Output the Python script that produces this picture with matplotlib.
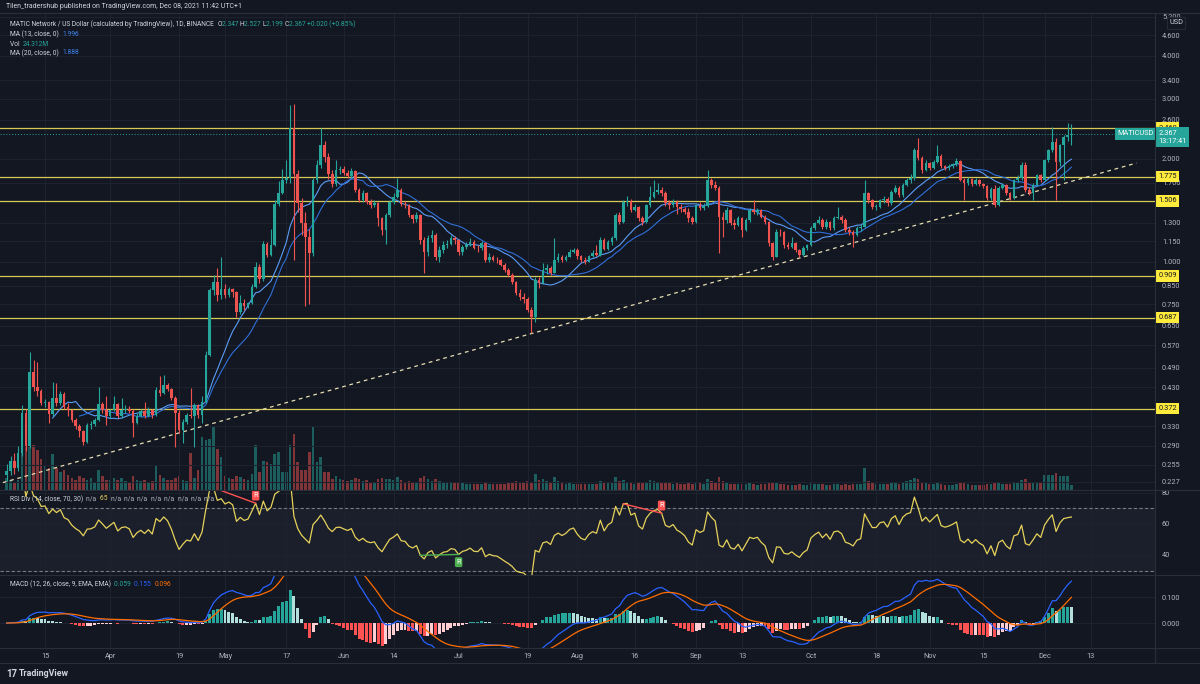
import numpy as np
import pandas as pd
import matplotlib
matplotlib.use("Agg")
import matplotlib.pyplot as plt
import matplotlib.dates as mdates
import matplotlib.transforms as mtransforms
from matplotlib.lines import Line2D
from matplotlib.ticker import FixedLocator, FixedFormatter, NullLocator

plt.rcParams['font.family'] = ['Roboto', 'Liberation Sans', 'DejaVu Sans']
FS = 5.3      # axis labels
FS_LEG = 4.8  # pane legends

# daily MATICUSD candles, 2021-03-05 .. 2021-12-08 (open = previous close)
first_open = 0.238
close = [
    0.245, 0.262, 0.250, 0.275, 0.360, 0.290, 0.476, 0.430, 0.418, 0.385,
    0.390, 0.358, 0.400, 0.385, 0.411, 0.377, 0.369, 0.345, 0.330, 0.319,
    0.298, 0.333, 0.335, 0.345, 0.383, 0.369, 0.353, 0.368, 0.383, 0.353,
    0.369, 0.372, 0.366, 0.337, 0.355, 0.365, 0.355, 0.369, 0.356, 0.422,
    0.413, 0.436, 0.425, 0.400, 0.361, 0.322, 0.341, 0.357, 0.353, 0.381,
    0.356, 0.390, 0.534, 0.827, 0.870, 0.800, 0.830, 0.800, 0.830, 0.815,
    0.715, 0.760, 0.740, 0.755, 0.845, 0.965, 0.890, 1.130, 1.050, 1.120,
    1.480, 1.590, 1.730, 1.760, 2.460, 1.800, 1.490, 1.300, 1.180, 1.060,
    1.730, 1.920, 2.190, 2.020, 1.800, 1.690, 1.855, 1.870, 1.820, 1.780,
    1.840, 1.620, 1.520, 1.585, 1.500, 1.470, 1.490, 1.340, 1.240, 1.370,
    1.500, 1.550, 1.620, 1.480, 1.470, 1.370, 1.330, 1.370, 1.160, 1.070,
    1.170, 1.200, 1.035, 1.083, 1.120, 1.130, 1.170, 1.158, 1.070, 1.107,
    1.120, 1.145, 1.100, 1.095, 1.133, 1.012, 1.035, 1.015, 1.010, 0.980,
    0.946, 0.915, 0.875, 0.810, 0.790, 0.780, 0.723, 0.690, 0.885, 0.865,
    0.946, 0.957, 0.930, 1.012, 1.035, 1.015, 1.035, 1.070, 1.083, 1.040,
    1.010, 1.000, 1.040, 1.060, 1.050, 1.158, 1.090, 1.145, 1.170, 1.370,
    1.310, 1.500, 1.510, 1.420, 1.450, 1.340, 1.310, 1.466, 1.550, 1.600,
    1.620, 1.590, 1.483, 1.466, 1.500, 1.450, 1.430, 1.400, 1.340, 1.310,
    1.466, 1.440, 1.460, 1.730, 1.680, 1.645, 1.355, 1.325, 1.420, 1.300,
    1.280, 1.340, 1.240, 1.325, 1.417, 1.400, 1.417, 1.355, 1.310, 1.133,
    1.035, 1.225, 1.220, 1.120, 1.107, 1.133, 1.083, 1.047, 1.095, 1.120,
    1.252, 1.295, 1.325, 1.266, 1.310, 1.252, 1.340, 1.350, 1.325, 1.239,
    1.225, 1.200, 1.252, 1.266, 1.585, 1.516, 1.450, 1.450, 1.516, 1.530,
    1.483, 1.600, 1.645, 1.567, 1.680, 1.734, 1.755, 2.120, 2.010, 1.855,
    1.940, 1.880, 1.960, 2.040, 1.900, 1.880, 1.900, 1.930, 1.970, 1.740,
    1.700, 1.750, 1.690, 1.740, 1.690, 1.660, 1.535, 1.630, 1.470, 1.645,
    1.680, 1.590, 1.540, 1.734, 1.755, 1.920, 1.620, 1.590, 1.680, 1.790,
    1.730, 1.980, 2.120, 2.245, 1.960, 2.190, 2.320, 2.347, 2.367,
]
high = [
    0.256, 0.270, 0.275, 0.290, 0.380, 0.370, 0.543, 0.516, 0.510, 0.425,
    0.398, 0.392, 0.446, 0.441, 0.420, 0.415, 0.385, 0.372, 0.350, 0.335,
    0.322, 0.338, 0.342, 0.350, 0.431, 0.388, 0.404, 0.372, 0.404, 0.386,
    0.400, 0.380, 0.378, 0.370, 0.360, 0.372, 0.390, 0.375, 0.372, 0.430,
    0.462, 0.467, 0.441, 0.428, 0.405, 0.368, 0.346, 0.362, 0.427, 0.385,
    0.384, 0.404, 0.548, 0.840, 0.915, 0.957, 1.030, 0.860, 0.845, 0.840,
    0.820, 0.800, 0.780, 0.765, 0.860, 1.000, 0.985, 1.150, 1.140, 1.250,
    1.520, 1.720, 1.870, 1.980, 2.870, 2.900, 1.850, 1.540, 1.400, 1.250,
    1.760, 1.980, 2.460, 2.250, 2.080, 1.850, 1.980, 1.900, 1.900, 1.850,
    1.880, 1.860, 1.640, 1.620, 1.600, 1.530, 1.520, 1.500, 1.350, 1.390,
    1.520, 1.590, 1.760, 1.640, 1.510, 1.480, 1.380, 1.400, 1.380, 1.180,
    1.200, 1.240, 1.210, 1.110, 1.150, 1.160, 1.200, 1.190, 1.165, 1.120,
    1.140, 1.170, 1.160, 1.120, 1.150, 1.140, 1.060, 1.050, 1.030, 1.020,
    0.990, 0.960, 0.925, 0.880, 0.830, 0.810, 0.790, 0.735, 0.900, 0.905,
    0.990, 0.985, 0.975, 1.170, 1.060, 1.050, 1.050, 1.090, 1.100, 1.095,
    1.050, 1.030, 1.050, 1.080, 1.120, 1.180, 1.170, 1.160, 1.190, 1.390,
    1.400, 1.520, 1.560, 1.530, 1.480, 1.460, 1.360, 1.480, 1.660, 1.734,
    1.700, 1.650, 1.610, 1.520, 1.530, 1.520, 1.480, 1.450, 1.440, 1.360,
    1.480, 1.500, 1.490, 1.855, 1.760, 1.720, 1.660, 1.400, 1.450, 1.430,
    1.330, 1.360, 1.350, 1.340, 1.440, 1.520, 1.440, 1.430, 1.370, 1.320,
    1.140, 1.250, 1.250, 1.230, 1.140, 1.184, 1.140, 1.090, 1.110, 1.130,
    1.270, 1.310, 1.360, 1.340, 1.330, 1.320, 1.360, 1.450, 1.370, 1.340,
    1.260, 1.240, 1.270, 1.290, 1.734, 1.600, 1.530, 1.480, 1.530, 1.560,
    1.550, 1.620, 1.680, 1.660, 1.700, 1.760, 1.800, 2.150, 2.300, 2.040,
    1.980, 1.960, 1.980, 2.190, 2.060, 1.920, 1.930, 1.950, 2.010, 1.990,
    1.760, 1.770, 1.760, 1.760, 1.750, 1.700, 1.680, 1.650, 1.680, 1.660,
    1.700, 1.690, 1.600, 1.750, 1.790, 1.960, 1.960, 1.650, 1.700, 1.810,
    1.810, 2.000, 2.140, 2.480, 2.300, 2.210, 2.350, 2.540, 2.527,
]
low = [
    0.228, 0.238, 0.240, 0.245, 0.270, 0.280, 0.285, 0.420, 0.405, 0.380,
    0.375, 0.337, 0.355, 0.378, 0.380, 0.372, 0.353, 0.340, 0.325, 0.308,
    0.292, 0.296, 0.325, 0.330, 0.343, 0.362, 0.333, 0.350, 0.365, 0.348,
    0.350, 0.362, 0.360, 0.308, 0.335, 0.352, 0.350, 0.352, 0.350, 0.354,
    0.405, 0.410, 0.418, 0.395, 0.288, 0.315, 0.295, 0.336, 0.348, 0.288,
    0.350, 0.337, 0.385, 0.530, 0.800, 0.770, 0.780, 0.785, 0.790, 0.790,
    0.690, 0.705, 0.725, 0.730, 0.750, 0.840, 0.865, 0.880, 1.030, 1.040,
    1.110, 1.460, 1.580, 1.700, 1.700, 1.010, 1.400, 1.200, 0.740, 0.750,
    1.040, 1.700, 1.880, 1.960, 1.750, 1.650, 1.660, 1.800, 1.790, 1.760,
    1.760, 1.600, 1.500, 1.500, 1.480, 1.440, 1.450, 1.270, 1.200, 1.130,
    1.350, 1.480, 1.540, 1.460, 1.440, 1.350, 1.300, 1.310, 1.130, 0.930,
    1.040, 1.140, 1.010, 1.000, 1.060, 1.100, 1.120, 1.130, 1.050, 1.050,
    1.090, 1.110, 1.090, 1.070, 1.085, 1.000, 1.000, 1.005, 0.990, 0.970,
    0.935, 0.905, 0.860, 0.800, 0.775, 0.760, 0.715, 0.618, 0.665, 0.840,
    0.860, 0.920, 0.915, 0.925, 1.000, 1.000, 1.005, 1.030, 1.060, 1.020,
    0.995, 0.985, 0.995, 1.030, 1.040, 1.040, 1.080, 1.080, 1.120, 1.160,
    1.290, 1.300, 1.460, 1.400, 1.410, 1.320, 1.280, 1.300, 1.450, 1.540,
    1.580, 1.560, 1.460, 1.430, 1.450, 1.380, 1.400, 1.380, 1.310, 1.290,
    1.300, 1.420, 1.420, 1.450, 1.640, 1.620, 1.060, 1.184, 1.300, 1.280,
    1.250, 1.270, 1.184, 1.230, 1.310, 1.380, 1.370, 1.340, 1.290, 1.110,
    1.010, 1.030, 1.190, 1.100, 1.090, 1.100, 1.070, 1.030, 1.040, 1.080,
    1.110, 1.240, 1.290, 1.250, 1.250, 1.240, 1.240, 1.330, 1.300, 1.220,
    1.200, 1.107, 1.190, 1.230, 1.260, 1.490, 1.430, 1.420, 1.440, 1.490,
    1.460, 1.470, 1.590, 1.550, 1.550, 1.660, 1.700, 1.740, 1.980, 1.820,
    1.840, 1.860, 1.870, 1.950, 1.880, 1.850, 1.860, 1.880, 1.900, 1.720,
    1.516, 1.680, 1.670, 1.680, 1.670, 1.640, 1.520, 1.520, 1.450, 1.460,
    1.630, 1.570, 1.520, 1.530, 1.710, 1.740, 1.600, 1.570, 1.516, 1.660,
    1.710, 1.720, 1.960, 2.100, 1.516, 1.900, 1.730, 2.260, 2.199,
]
volume = [  # millions
    60, 50, 40, 50, 320, 365, 270, 220, 195, 150,
    120, 108, 175, 108, 90, 98, 75, 60, 50, 70,
    60, 50, 58, 40, 100, 70, 50, 50, 60, 50,
    58, 45, 40, 70, 50, 45, 50, 40, 45, 125,
    75, 60, 50, 50, 60, 70, 50, 45, 180, 60,
    100, 260, 245, 250, 310, 200, 160, 70, 60, 55,
    70, 65, 55, 50, 80, 220, 90, 140, 135, 130,
    175, 185, 90, 90, 220, 275, 135, 100, 100, 185,
    310, 135, 160, 90, 90, 55, 70, 55, 50, 45,
    50, 60, 55, 45, 50, 40, 40, 55, 60, 55,
    55, 50, 65, 50, 40, 45, 40, 40, 60, 70,
    55, 45, 55, 45, 40, 35, 35, 35, 40, 35,
    30, 30, 30, 28, 30, 40, 30, 28, 28, 30,
    30, 35, 40, 45, 40, 38, 45, 40, 80, 50,
    55, 45, 40, 65, 45, 35, 30, 35, 30, 30,
    30, 28, 30, 30, 30, 45, 35, 38, 35, 65,
    45, 50, 40, 38, 30, 35, 35, 40, 50, 45,
    40, 35, 40, 35, 30, 35, 30, 30, 35, 30,
    40, 35, 30, 55, 45, 35, 65, 45, 35, 30,
    28, 28, 30, 28, 35, 30, 25, 28, 30, 40,
    38, 40, 28, 28, 25, 25, 25, 28, 25, 25,
    35, 30, 28, 28, 25, 25, 28, 30, 25, 28,
    25, 30, 28, 28, 110, 45, 35, 30, 30, 28,
    28, 35, 35, 30, 40, 45, 50, 60, 55, 40,
    35, 30, 28, 35, 30, 25, 25, 25, 28, 35,
    40, 28, 25, 25, 25, 25, 30, 30, 35, 35,
    28, 28, 28, 40, 35, 50, 55, 35, 40, 40,
    35, 75, 75, 75, 85, 70, 70, 70, 24.312,
]

levels = [2.460, 1.775, 1.506, 0.909, 0.687, 0.372]
trend_dates = ["2021-03-04", "2021-12-25"]
trend_prices = [0.226, 1.944]
price_ticks = [0.227, 0.255, 0.290, 0.330, 0.370, 0.430, 0.490, 0.570, 0.650, 0.750,
               0.850, 1.000, 1.150, 1.300, 1.700, 2.000, 2.600, 3.000, 3.400, 4.000,
               4.600, 5.200]
date_ticks = ["2021-03-15", "2021-04-01", "2021-04-19", "2021-05-01", "2021-05-17",
              "2021-06-01", "2021-06-14", "2021-07-01", "2021-07-19", "2021-08-01",
              "2021-08-16", "2021-09-01", "2021-09-13", "2021-10-01", "2021-10-18",
              "2021-11-01", "2021-11-15", "2021-12-01", "2021-12-13"]
date_labels = ["15", "Apr", "19", "May", "17", "Jun", "14", "Jul", "19", "Aug",
               "16", "Sep", "13", "Oct", "18", "Nov", "15", "Dec", "13"]
div_bear = [("2021-04-28", "2021-05-09"), ("2021-08-13", "2021-08-23")]
div_bull = [("2021-06-21", "2021-07-01")]

# ---- look ----
W, H, DPI = 1200, 684, 100
BG = "#131722"
GRID = "#1e222e"
SEP = "#2a2e39"
TXT = "#b2b5be"
WHITE = "#d1d4dc"
UP, DOWN = "#26a69a", "#ef5350"

c = np.array(close)
h = np.array(high)
l = np.array(low)
v = np.array(volume)
o = np.r_[first_open, c[:-1]]
dates = pd.date_range("2021-03-05", periods=len(c), freq="D")
xd = mdates.date2num(dates)
s = pd.Series(c)

ma13 = s.rolling(13).mean()
ma20 = s.rolling(20).mean()
delta = s.diff()
gain = delta.clip(lower=0).ewm(alpha=1/14, adjust=False).mean()
loss = (-delta.clip(upper=0)).ewm(alpha=1/14, adjust=False).mean()
rsi = 100 - 100 / (1 + gain / loss)
macd = s.ewm(span=12, adjust=False).mean() - s.ewm(span=26, adjust=False).mean()
signal = macd.ewm(span=9, adjust=False).mean()
hist = macd - signal
prev = hist.shift(1).fillna(0)
hcol = np.where(hist >= 0, np.where(prev < hist, "#26a69a", "#b2dfdb"),
                np.where(prev < hist, "#ffcdd2", "#ff5252"))

fig = plt.figure(figsize=(W / DPI, H / DPI), dpi=DPI, facecolor=BG)


def pane(x0, y0, x1, y1, **kw):
    return fig.add_axes([x0 / W, 1 - y1 / H, (x1 - x0) / W, (y1 - y0) / H], **kw)


ax_vol = pane(0, 13, 1155, 490)
ax = pane(0, 13, 1155, 490, sharex=ax_vol)
ax_rsi = pane(0, 490, 1155, 575, sharex=ax_vol)
ax_macd = pane(0, 575, 1155, 648, sharex=ax_vol)

tick_x = mdates.date2num(pd.to_datetime(date_ticks))
for a in (ax, ax_rsi, ax_macd):
    a.set_facecolor("none")
    for sp in a.spines.values():
        sp.set_visible(False)
    a.yaxis.tick_right()
    a.tick_params(axis="both", length=0, labelsize=FS, labelcolor=TXT, pad=5)
    a.grid(True, color=GRID, lw=0.8)
    a.set_axisbelow(True)
ax_vol.axis("off")

ax_macd.xaxis.set_major_locator(FixedLocator(tick_x))
ax_macd.xaxis.set_major_formatter(FixedFormatter(date_labels))
ax.tick_params(labelbottom=False)
ax_rsi.tick_params(labelbottom=False)
ax_macd.tick_params(axis="x", pad=3.5)
ax_macd.set_xlim(mdates.date2num(pd.Timestamp("2021-03-03 06:00")),
                 mdates.date2num(pd.Timestamp("2021-12-29 20:00")))

# ---- price pane ----
ax.set_yscale("log")
ax.set_ylim(0.215, 5.34)
ax.yaxis.set_major_locator(FixedLocator(price_ticks))
ax.yaxis.set_major_formatter(FixedFormatter([f"{t:.3f}" for t in price_ticks]))
ax.yaxis.set_minor_locator(NullLocator())

vcol = np.where(c >= o, UP, DOWN)
ax_vol.bar(xd, v, width=0.68, color=vcol, alpha=0.5, linewidth=0)
ax_vol.set_ylim(0, 2340)

for lv in levels:
    ax.axhline(lv, color="#d8c85a", lw=0.9, zorder=2)

ax.plot(mdates.date2num(pd.to_datetime(trend_dates)), trend_prices,
        color="#e6dfb4", lw=0.9, ls=(0, (3, 3)), zorder=2)
ax.axhline(c[-1], color=UP, lw=0.7, ls=(0, (1, 2)), zorder=2)

ax.plot(xd, ma13, color="#5b9cf6", lw=0.8, zorder=5)
ax.plot(xd, ma20, color="#2f6fd8", lw=0.8, zorder=5)

ax.vlines(xd, l, h, colors=vcol, lw=0.8, zorder=6)
body_lo = np.minimum(o, c)
body_h = np.maximum(np.abs(c - o), c * 0.004)
ax.bar(xd, body_h, bottom=body_lo, width=0.68, color=vcol, linewidth=0, zorder=7)

tr = mtransforms.blended_transform_factory(ax.transAxes, ax.transData)
for lv in levels:
    ax.text(1.003, lv, f"{lv:.3f}", transform=tr, ha="left", va="center",
            fontsize=FS, color="#131722", clip_on=False, zorder=20,
            bbox=dict(boxstyle="square,pad=0.3", fc="#ffeb3b", ec="none"))
ax.text(1.003, c[-1], f"{c[-1]:.3f}\n13:17:41", transform=mtransforms.offset_copy(
        tr, fig=fig, x=0, y=-3.5, units="dots"), ha="left", va="center",
        fontsize=FS, color="white", linespacing=1.15, clip_on=False, zorder=21,
        bbox=dict(boxstyle="square,pad=0.35", fc=UP, ec="none"))
ax.text(0.9985, c[-1], "MATICUSD", transform=tr, ha="right", va="center",
        fontsize=FS, color="white", clip_on=False, zorder=21,
        bbox=dict(boxstyle="square,pad=0.3", fc=UP, ec="none"))

# ---- RSI pane ----
ax_rsi.set_ylim(27.1, 81.9)
ax_rsi.yaxis.set_major_locator(FixedLocator([40, 60, 80]))
ax_rsi.fill_between([xd[0] - 30, xd[-1] + 60], 30, 70, color="#1b1f2c", zorder=0)
ax_rsi.axhline(70, color="#787b86", lw=0.8, ls=(0, (3, 2)))
ax_rsi.axhline(30, color="#787b86", lw=0.8, ls=(0, (3, 2)))
ax_rsi.plot(xd, rsi, color="#e6d25a", lw=0.9, zorder=4)


def rsi_at(d):
    i = (pd.Timestamp(d) - dates[0]).days
    return mdates.date2num(pd.Timestamp(d)), rsi.iloc[i]


for d0, d1 in div_bear:
    x0, y0 = rsi_at(d0)
    x1, y1 = rsi_at(d1)
    ax_rsi.plot([x0, x1], [y0, y1], color="#ff5252", lw=1.0, zorder=5)
    ax_rsi.annotate("R", (x1, y1), xytext=(0, 3), textcoords="offset points",
                    ha="center", va="bottom", fontsize=FS, color="white", zorder=6,
                    bbox=dict(boxstyle="round,pad=0.2", fc="#ff5252", ec="none"))
for d0, d1 in div_bull:
    x0, y0 = rsi_at(d0)
    x1, y1 = rsi_at(d1)
    ax_rsi.plot([x0, x1], [y0, y1], color="#4caf50", lw=1.0, zorder=5)
    ax_rsi.annotate("R", (x1, y1), xytext=(0, -3), textcoords="offset points",
                    ha="center", va="top", fontsize=FS, color="white", zorder=6,
                    bbox=dict(boxstyle="round,pad=0.2", fc="#4caf50", ec="none"))

# ---- MACD pane ----
ax_macd.set_ylim(-0.096, 0.185)
ax_macd.yaxis.set_major_locator(FixedLocator([0.0, 0.1]))
ax_macd.yaxis.set_major_formatter(FixedFormatter(["0.000", "0.100"]))
ax_macd.bar(xd, hist, width=0.78, color=hcol, linewidth=0, zorder=3)
ax_macd.plot(xd, macd, color="#2962ff", lw=0.9, zorder=4)
ax_macd.plot(xd, signal, color="#ff6d00", lw=0.9, zorder=4)

# ---- frame lines ----
for yy in (13, 490, 575, 648, 663):
    fig.add_artist(Line2D([0, 1], [1 - yy / H] * 2, color=SEP, lw=0.8))
fig.add_artist(Line2D([1155 / W] * 2, [1 - 663 / H, 1 - 13 / H], color=SEP, lw=0.8))

# ---- texts ----
renderer = fig.canvas.get_renderer()


def run(x, y, pieces, size=FS_LEG, weight="normal"):
    for txt, col in pieces:
        t = fig.text(x / W, 1 - y / H, txt, color=col, fontsize=size,
                     fontweight=weight, ha="left", va="center")
        x += t.get_window_extent(renderer=renderer).width


run(6, 7, [("Tilen_tradershub published on TradingView.com, Dec 08, 2021 11:42 UTC+1", WHITE)],
    size=5.0)
run(10, 24, [("MATIC Network / US Dollar (calculated by TradingView), 1D, BINANCE  ", WHITE),
             ("O", WHITE), ("2.347 ", UP), ("H", WHITE), ("2.527 ", UP),
             ("L", WHITE), ("2.199 ", UP), ("C", WHITE), ("2.367 ", UP),
             ("+0.020 (+0.85%)", UP)])
run(10, 34, [("MA (13, close, 0)  ", WHITE), ("1.996", "#3d85f0")])
run(10, 44, [("Vol  ", WHITE), ("24.312M", UP)])
run(10, 53, [("MA (20, close, 0)  ", WHITE), ("1.888", "#3d85f0")])
run(10, 499, [("RSI Div (14, close, 70, 30)  ", WHITE), ("n/a  ", TXT), ("65  ", "#e6d25a")]
    + [("n/a  ", TXT)] * 8)
run(10, 584, [("MACD (12, 26, close, 9, EMA, EMA)  ", WHITE), ("0.059  ", UP),
              ("0.155  ", "#2962ff"), ("0.096", "#ff6d00")])
fig.text(1176 / W, 1 - 23 / H, "USD", color=WHITE, fontsize=FS, ha="center", va="center",
         bbox=dict(boxstyle="square,pad=0.3", fc=BG, ec=SEP, lw=0.6))
run(6, 674, [("17", WHITE)], size=7.0, weight="bold")
run(19, 674, [("TradingView", WHITE)], size=6.4, weight="bold")

fig.savefig("out.png", dpi=DPI, facecolor=BG)
